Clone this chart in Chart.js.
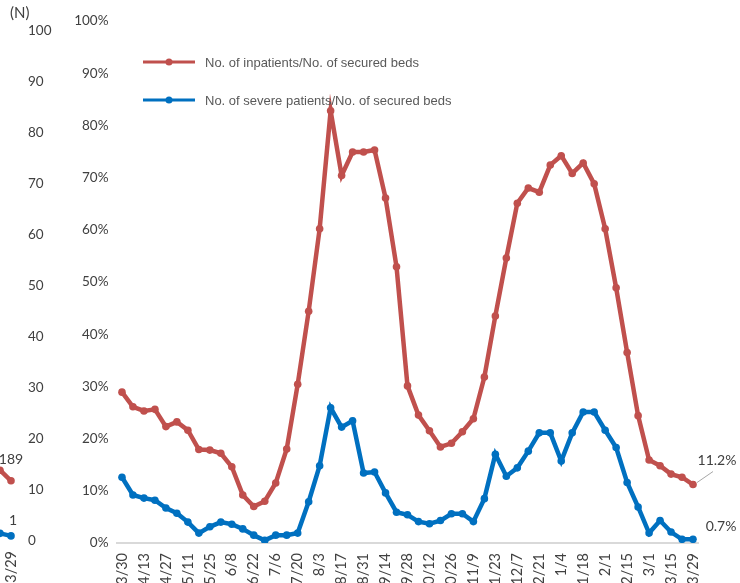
<!DOCTYPE html>
<html>
<head>
<meta charset="utf-8">
<script src="https://cdn.jsdelivr.net/npm/chart.js@4.4.1/dist/chart.umd.min.js"></script>
<style>
  html, body { margin: 0; padding: 0; background: #fff; overflow: hidden; }
  #wrap { position: relative; width: 740px; height: 583px; overflow: hidden; }
  #left { position: absolute; left: -10px; top: 0; width: 70px; height: 600px; }
  #main { position: absolute; left: 60px; top: 0; width: 680px; height: 600px; }
</style>
</head>
<body>
<div id="wrap">
  <div id="left"><canvas id="chartLeft"></canvas></div>
  <div id="main"><canvas id="chartMain"></canvas></div>
</div>
<script>
// weekly data, 3/30 to 3/29 of the next year
const weeks = ['3/30','4/6','4/13','4/20','4/27','5/4','5/11','5/18','5/25','6/1','6/8','6/15','6/22','6/29',
  '7/6','7/13','7/20','7/27','8/3','8/10','8/17','8/24','8/31','9/7','9/14','9/21','9/28','10/5','10/12',
  '10/19','10/26','11/2','11/9','11/16','11/23','11/30','12/7','12/14','12/21','12/28','1/4','1/11','1/18',
  '1/25','2/1','2/8','2/15','2/22','3/1','3/8','3/15','3/22','3/29'];

const inpatientRate = [28.9, 26.1, 25.3, 25.6, 22.3, 23.2, 21.6, 17.9, 17.8, 17.2, 14.6, 9.2, 7.0, 8.0,
  11.5, 18.0, 30.4, 44.4, 60.2, 82.8, 70.4, 74.9, 74.9, 75.3, 66.1, 52.9, 30.1, 24.5, 21.5, 18.4, 19.1,
  21.3, 23.8, 31.8, 43.5, 54.6, 65.1, 68.0, 67.2, 72.4, 74.2, 70.8, 72.8, 68.8, 60.2, 48.9, 36.5, 24.4,
  15.9, 14.8, 13.2, 12.6, 11.2];

const severeRate = [12.6, 9.2, 8.6, 8.2, 6.7, 5.7, 4.0, 1.9, 3.1, 4.0, 3.6, 2.7, 1.5, 0.5, 1.5, 1.5, 1.9,
  7.9, 14.8, 25.9, 22.2, 23.4, 13.4, 13.6, 9.6, 5.9, 5.4, 4.1, 3.7, 4.3, 5.6, 5.6, 4.1, 8.5, 17.0, 12.8,
  14.4, 17.6, 21.1, 21.1, 15.7, 21.1, 25.1, 25.1, 21.6, 18.3, 11.6, 6.9, 1.9, 4.3, 2.1, 0.7, 0.7];

const seriesNames = ['No. of inpatients/No. of secured beds', 'No. of severe patients/No. of secured beds'];

// tail of the neighbouring chart (counts)
const leftWeeks = ['3/22', '3/29'];
const leftInpatients = [222, 189];
const leftSevere = [1.5, 1];

const RED = '#C0504D';
const BLUE = '#0070C0';
const TXT = '#404040';
const tickFont = { family: 'Lato', size: 13.5 };
const dateFont = { family: 'Lato', size: 14.5 };

const mainNotes = {
  id: 'mainNotes',
  afterDatasetsDraw(chart) {
    const ctx = chart.ctx;
    const area = chart.chartArea;
    const xs = chart.scales.x, ys = chart.scales.y;
    ctx.save();
    // legend inside the plot
    const cols = [RED, BLUE];
    const rows = [41, 79];
    for (let i = 0; i < 2; i++) {
      const y = area.top + rows[i];
      const x0 = area.left + 26.5;
      ctx.strokeStyle = cols[i];
      ctx.lineWidth = 3;
      ctx.beginPath();
      ctx.moveTo(x0, y);
      ctx.lineTo(x0 + 52, y);
      ctx.stroke();
      ctx.fillStyle = cols[i];
      ctx.beginPath();
      ctx.arc(x0 + 26, y, 3.5, 0, Math.PI * 2);
      ctx.fill();
      ctx.fillStyle = '#595959';
      ctx.font = '13px "Liberation Sans", Arial, sans-serif';
      ctx.textAlign = 'left';
      ctx.textBaseline = 'middle';
      ctx.fillText(seriesNames[i], x0 + 62, y + 1);
    }
    // end labels
    const last = weeks.length - 1;
    const px = xs.getPixelForValue(last);
    const pr = ys.getPixelForValue(inpatientRate[last]);
    const pb = ys.getPixelForValue(severeRate[last]);
    ctx.strokeStyle = '#a6a6a6';
    ctx.lineWidth = 1;
    ctx.beginPath();
    ctx.moveTo(px + 4, pr - 2);
    ctx.lineTo(px + 20, pr - 13);
    ctx.stroke();
    ctx.fillStyle = TXT;
    ctx.font = '14px Lato';
    ctx.textAlign = 'center';
    ctx.textBaseline = 'middle';
    ctx.fillText(inpatientRate[last].toFixed(1) + '%', px + 24, pr - 24);
    ctx.fillText(severeRate[last].toFixed(1) + '%', px + 28, pb - 13);
    ctx.restore();
  }
};

new Chart(document.getElementById('chartMain'), {
  type: 'line',
  data: {
    labels: weeks,
    datasets: [{
      label: seriesNames[0],
      data: inpatientRate,
      borderColor: RED,
      backgroundColor: RED,
      borderWidth: 4.5,
      pointRadius: 3.8,
      pointBorderWidth: 0,
      tension: 0
    }, {
      label: seriesNames[1],
      data: severeRate,
      borderColor: BLUE,
      backgroundColor: BLUE,
      borderWidth: 4.5,
      pointRadius: 3.8,
      pointBorderWidth: 0,
      tension: 0
    }]
  },
  options: {
    responsive: true,
    maintainAspectRatio: false,
    animation: false,
    layout: { padding: { top: 21, right: 41.5, left: 0, bottom: 0 } },
    plugins: { legend: { display: false }, tooltip: { enabled: false } },
    scales: {
      x: {
        offset: true,
        grid: { display: false, drawTicks: false },
        border: { display: true, color: '#d9d9d9', width: 2 },
        ticks: {
          autoSkip: false, minRotation: 90, maxRotation: 90, padding: 10,
          color: TXT, font: dateFont,
          callback: (v, i) => i % 2 === 0 ? weeks[i] : ''
        },
        afterFit: s => { s.height = 57; }
      },
      y: {
        min: 0, max: 100,
        grid: { display: false, drawTicks: false },
        border: { display: false },
        ticks: { stepSize: 10, padding: 8, color: TXT, font: tickFont, callback: v => v + '%' },
        afterFit: s => { s.width = 56.5; }
      }
    }
  },
  plugins: [mainNotes]
});

const leftNotes = {
  id: 'leftNotes',
  afterDatasetsDraw(chart) {
    const ctx = chart.ctx;
    const area = chart.chartArea;
    const xs = chart.scales.x;
    const last = leftWeeks.length - 1;
    const px = xs.getPixelForValue(last);
    const pr = chart.scales.yCount.getPixelForValue(leftInpatients[last]);
    const pb = chart.scales.yN.getPixelForValue(leftSevere[last]);
    ctx.save();
    ctx.fillStyle = TXT;
    ctx.font = '14px Lato';
    ctx.textAlign = 'center';
    ctx.textBaseline = 'middle';
    ctx.fillText(String(leftInpatients[last]), px, pr - 21);
    ctx.fillText(String(leftSevere[last]), px + 2, pb - 15);
    ctx.textAlign = 'left';
    ctx.font = '15px Lato';
    ctx.fillText('(N)', area.right - 1, 13);
    ctx.restore();
  }
};

new Chart(document.getElementById('chartLeft'), {
  type: 'line',
  data: {
    labels: leftWeeks,
    datasets: [{
      data: leftInpatients,
      yAxisID: 'yCount',
      borderColor: RED,
      backgroundColor: RED,
      borderWidth: 4.5,
      pointRadius: 3.8,
      pointBorderWidth: 0,
      clip: false
    }, {
      data: leftSevere,
      yAxisID: 'yN',
      borderColor: BLUE,
      backgroundColor: BLUE,
      borderWidth: 4.5,
      pointRadius: 3.8,
      pointBorderWidth: 0,
      clip: false
    }]
  },
  options: {
    responsive: true,
    maintainAspectRatio: false,
    animation: false,
    layout: { padding: { top: 31, right: 0, left: 0, bottom: 0 } },
    plugins: { legend: { display: false }, tooltip: { enabled: false } },
    scales: {
      x: {
        offset: false,
        grid: { display: false, drawTicks: false },
        border: { display: false },
        ticks: {
          autoSkip: false, minRotation: 90, maxRotation: 90, padding: 10,
          color: TXT, font: dateFont,
          callback: (v, i) => i === leftWeeks.length - 1 ? leftWeeks[i] : ''
        },
        afterFit: s => { s.height = 59; }
      },
      yN: {
        position: 'right',
        min: 0, max: 100,
        grid: { display: false, drawTicks: false },
        border: { display: false },
        ticks: { stepSize: 10, padding: 17, color: TXT, font: tickFont },
        afterFit: s => { s.width = 49; }
      },
      yCount: { display: false, min: 0, max: 1600 }
    }
  },
  plugins: [leftNotes]
});
</script>
</body>
</html>
